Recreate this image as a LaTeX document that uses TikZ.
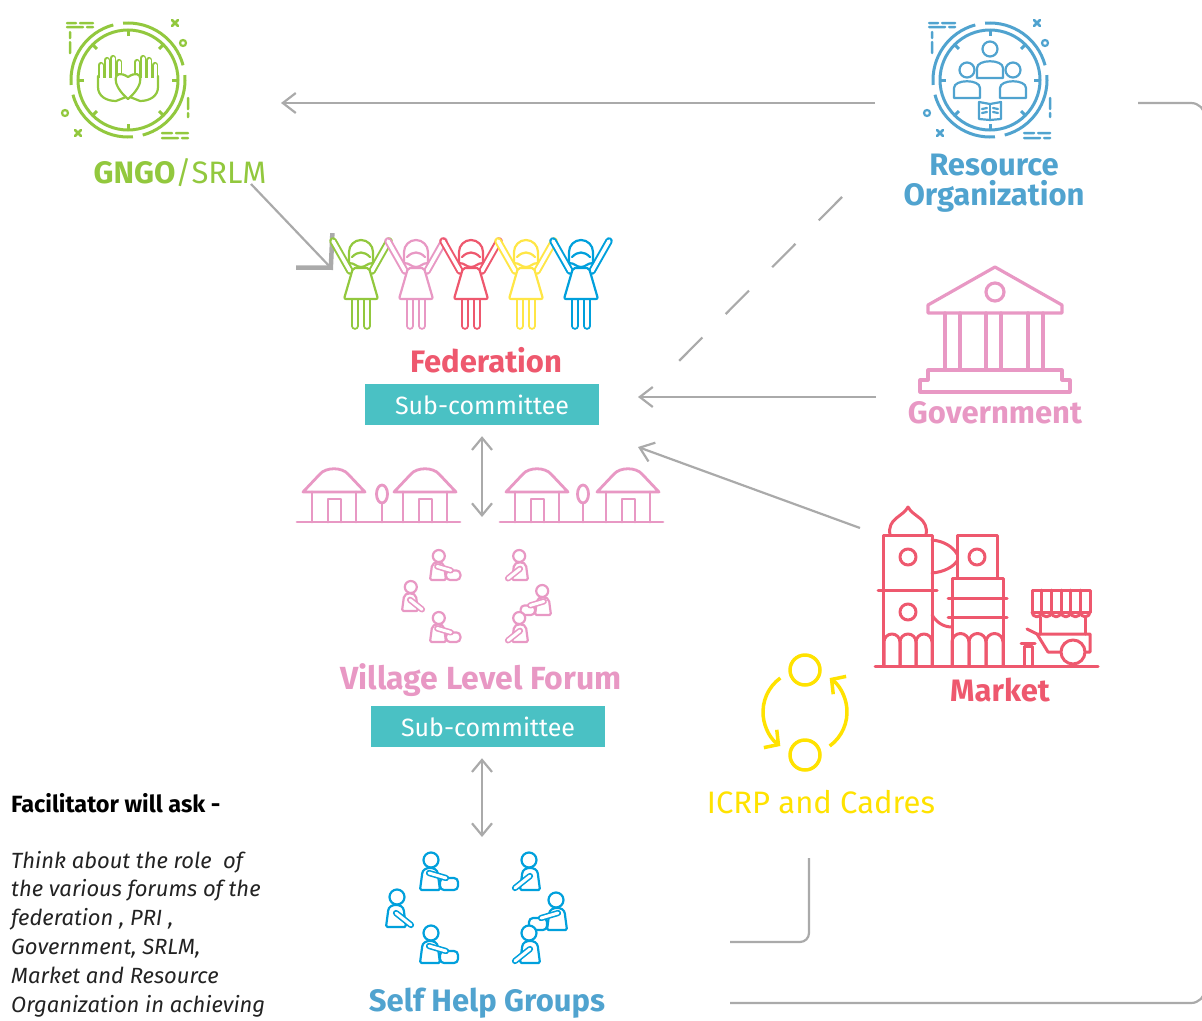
\documentclass[tikz,border=0pt]{standalone}
\usepackage{fontspec}
\setmainfont{Fira Sans}
\usetikzlibrary{arrows.meta}

\definecolor{gngogreen}{RGB}{146,200,62}
\definecolor{roblue}{RGB}{80,163,207}
\definecolor{fedred}{RGB}{238,88,110}
\definecolor{govpink}{RGB}{232,152,196}
\definecolor{shgblue}{RGB}{0,160,220}
\definecolor{figyellow}{RGB}{255,230,70}
\definecolor{cadreyellow}{RGB}{255,226,0}
\definecolor{subteal}{RGB}{74,193,196}
\definecolor{linkgray}{RGB}{170,170,170}
\definecolor{asktext}{RGB}{35,35,35}

\tikzset{
  % text
  heading/.style={font=\fontsize{31}{31}\selectfont\bfseries, anchor=base, inner sep=0pt},
  subbox/.style={fill=subteal, text=white, minimum width=234pt, minimum height=41pt,
    inner sep=0pt, font=\fontsize{25}{25}\selectfont},
  note/.style={anchor=base west, inner sep=0pt, text=asktext,
    font=\fontsize{22}{22}\selectfont\itshape},
  % connectors
  link/.style={draw=linkgray, line width=2.2pt},
  barb/.style={-{Straight Barb[length=13pt,width=20pt]}},
  barbs/.style={{Straight Barb[length=12pt,width=20pt]}-{Straight Barb[length=12pt,width=20pt]}},
  % strokes of the icons
  icon/.style={line width=2.8pt, line cap=round, line join=round},
  slim/.style={line width=2.2pt, line cap=round, line join=round},
  hollow/.style={double=white, line width=2pt, double distance=3.6pt, line cap=round},
  vlf/.style={color=govpink, scale=0.8},
  shg/.style={color=shgblue}
}

\tikzset{
  % woman with raised arms
  woman/.pic={
    \draw[hollow] (-6,50) -- (-6,86);
    \draw[hollow] (6,50) -- (6,86);
    \draw[hollow] (-28,1) -- (-11,31);
    \draw[hollow] (28,1) -- (11,31);
    \draw[slim, fill=white, rounded corners=2pt] (-8,28) -- (8,28) -- (17,59) -- (-17,59) -- cycle;
    \draw[slim, fill=white] (-12,23) -- (-12,12) arc[start angle=180, end angle=360, radius=12] -- (12,23)
      .. controls (6,23) and (5,27) .. (0,27) .. controls (-5,27) and (-6,23) .. (-12,23) -- cycle;
    \draw[slim] (-9,17) .. controls (-3,11) and (3,11) .. (9,17);
  },
  % seated woman with a bowl
  sitbowl/.pic={
    \draw[slim, fill=white, rounded corners=1.5pt] (-10,0) -- (-8,-15) .. controls (-7,-24) and (7,-24) .. (8,-15) -- (10,0) -- cycle;
    \draw[slim, fill=white] (1,-30) circle[radius=7.5];
    \draw[slim, fill=white, rounded corners=4pt] (10,-12) -- (28,-12) -- (28,0) -- (10,0) -- cycle;
    \draw[hollow, line width=1.6pt, double distance=3pt] (-1,-17) -- (16,-12);
  },
  % seated woman reaching down
  sitreach/.pic={
    \draw[slim, fill=white, rounded corners=1.5pt] (-10,0) -- (-8,-15) .. controls (-7,-24) and (7,-24) .. (8,-15) -- (10,0) -- cycle;
    \draw[slim, fill=white] (1,-30) circle[radius=7.5];
    \draw[hollow, line width=1.6pt, double distance=3pt] (0,-14) -- (15,-2);
  },
  % hut and tree, origin on the ground
  hut/.pic={
    \draw[fill=white] (-31,-30) -- (-14,-48) .. controls (-8,-55) and (8,-55) .. (14,-48) -- (31,-30) -- cycle;
    \draw (-22,-30) -- (-22,0) (22,-30) -- (22,0);
    \draw (-6,0) -- (-6,-23) -- (7,-23) -- (7,0);
  },
  tree/.pic={
    \draw (0,-28) ellipse[x radius=5.5, y radius=9];
    \draw (0,-19) -- (0,0);
  },
  % round frame with marks
  badge/.pic={
    \foreach \a/\b in {-5/75, 85/165, 175/255, 265/345}
      \draw[line width=3pt] (\a:57) arc[start angle=\a, end angle=\b, radius=57];
    \draw[line width=3pt] (0,0) circle[radius=50];
    \foreach \t in {0,45,...,315} \draw[line width=3pt] (\t:44) -- (\t:50);
    \draw[line width=2.5pt, line cap=round]
      (-61,-57) -- (-52,-57) (-48,-57) -- (-35,-57)
      (-61,-53) -- (-45,-53) (-41,-53) -- (-35,-53)
      (-58,-48) -- (-58,-42) (-58,-38) -- (-58,-27)
      (44,-60) -- (50,-54) (44,-54) -- (50,-60)
      (-53,50) -- (-47,56) (-53,56) -- (-47,50)
      (34,53) -- (44,53) (48,53) -- (60,53)
      (34,58) -- (50,58) (54,58) -- (60,58)
      (60,18) -- (60,29) (60,33) -- (60,37);
    \draw[line width=2.2pt] (55,-37) circle[radius=3] (-63,33) circle[radius=3];
  },
  % open hand
  hand/.pic={
    \foreach \x/\t in {-27/-15,-21/-20,-15/-22,-9/-18}
      \draw[hollow, line width=1.6pt, double distance=3pt] (\x,0) -- (\x,\t);
    \fill[white] (-30,-2) -- (-30,7) .. controls (-30,16) and (-22,21) .. (-12,21) -- (-2,17) -- (-2,-2) -- cycle;
    \draw (-30,-4) -- (-30,7) .. controls (-30,16) and (-22,21) .. (-12,21) -- (-2,17);
  }
}

\begin{document}
\begin{tikzpicture}[x=1pt, y=-1pt]
\useasboundingbox (0,0) rectangle (1202,1020);

% icon centres
\coordinate (gn) at (128,80);
\coordinate (ro) at (990,80);
\coordinate (rim) at (1205,0);
\coordinate (cyc) at (805,712);

% labels
\node[heading, text=gngogreen] (gnlabel) at (180,183) {GNGO{\mdseries/SRLM}};
\node[heading, text=roblue] (rolabel) at (994,175) {Resource};
\node[heading, text=roblue] (rolabel2) at (994,205) {Organization};
\node[heading, text=fedred] (fedlabel) at (486,372) {Federation};
\node[subbox] (sub1) at (482,404.5) {Sub-committee};
\node[heading, text=govpink] (govlabel) at (995,423) {Government};
\node[heading, text=govpink, font=\fontsize{32}{32}\selectfont\bfseries] (vlflabel) at (481,689) {Village Level Forum};
\node[subbox] (sub2) at (488,726.5) {Sub-committee};
\node[heading, text=fedred] (mktlabel) at (1000,701) {Market};
\node[heading, text=cadreyellow, font=\fontsize{31}{31}\selectfont] (icrplabel) at (821,813) {ICRP and Cadres};
\node[heading, text=roblue] (shglabel) at (487,1011) {Self Help Groups};

% facilitator note
\node[anchor=base west, inner sep=0pt, text=black, font=\fontsize{23.5}{23.5}\selectfont\bfseries] (askhead) at (11,812) {Facilitator will ask -};
\foreach \l [count=\i] in {{Think about the role~ of}, {the various forums of the}, {federation , PRI ,},
    {Government, SRLM,}, {Market and Resource}, {Organization in achieving}}
  \node[note] (ask\i) at (11,{868+28.8*(\i-1)}) {\l};

% connector ends
\coordinate (roOut) at (875,103);
\coordinate (gnIn) at (281,103);
\coordinate (gnOut) at (251,184);
\coordinate (fedIn) at (333,270);
\coordinate (roDash) at (842,197);
\coordinate (fedDash) at (676,364);
\coordinate (govOut) at (876,397);
\coordinate (fedE) at (638,397);
\coordinate (mktOut) at (860,528);
\coordinate (fedSE) at (638,447);
\coordinate (roR) at (1138,103);
\coordinate (shgR) at (730,1003);
\coordinate (icrpOut) at (809,858);
\coordinate (shgR2) at (730,942);
\coordinate (vilTop) at (482,517);
\coordinate (shgTop) at (482,837);

% connectors
\draw[link, barb] (roOut) -- (gnIn);
\draw[link, -{Straight Barb[length=24pt,width=50pt,line width=4.5pt]}] (gnOut) -- (fedIn);
\draw[link, dash pattern=on 33pt off 33pt] (roDash) -- (fedDash);
\draw[link, barb] (govOut) -- (fedE);
\draw[link, barb] (mktOut) -- (fedSE);
\draw[link, rounded corners=14pt] (roR) -- (roR -| rim) -- (shgR -| rim) -- (shgR);
\draw[link, rounded corners=9pt] (icrpOut) |- (shgR2);
\draw[link, barbs, shorten <=11pt] (sub1.south) -- (vilTop);
\draw[link, barbs, shorten <=11pt] (sub2.south -| shgTop) -- (shgTop);

% GNGO / SRLM badge
\pic[color=gngogreen] at (gn) {badge};
\begin{scope}[shift={(gn)}, color=gngogreen, slim]
  \pic at (0,0) {hand};
  \pic[xscale=-1] at (0,0) {hand};
  \draw[fill=white] (0,19) .. controls (-18,4) and (-15,-13) .. (0,-3) .. controls (15,-13) and (18,4) .. (0,19);
\end{scope}

% resource organization badge
\pic[color=roblue] at (ro) {badge};
\begin{scope}[shift={(ro)}, color=roblue, slim]
  \draw[fill=white] (-36,18) -- (-36,8) .. controls (-36,-1) and (-10,-1) .. (-10,8) -- (-10,18) -- cycle;
  \draw[fill=white] (-23,-10) circle[radius=7.5];
  \draw[fill=white] (10,18) -- (10,8) .. controls (10,-1) and (36,-1) .. (36,8) -- (36,18) -- cycle;
  \draw[fill=white] (23,-10) circle[radius=7.5];
  \draw[fill=white] (-13,-2) -- (-13,-12) .. controls (-13,-21) and (13,-21) .. (13,-12) -- (13,-2) -- cycle;
  \draw[fill=white] (0,-31) circle[radius=7.5];
  % open book
  \draw[fill=white] (-11,22) -- (0,24) -- (11,22) -- (11,39) -- (0,40) -- (-11,39) -- cycle;
  \draw (0,24) -- (0,40);
  \draw (-8,29) -- (-3,28) (-8,33) -- (-3,32) (3,28) -- (8,29) (3,32) -- (8,33);
\end{scope}

% federation women
\foreach \c [count=\i from 0] in {gngogreen, govpink, fedred, figyellow, shgblue}
  \pic[color=\c] at ({361+55*\i},240) {woman};

% government building
\begin{scope}[color=govpink, icon, line width=3.2pt]
  \draw (928,313) -- (928,305) -- (995,267) -- (1062,305) -- (1062,313) -- cycle;
  \draw (995,292) circle[radius=9];
  \foreach \x in {945,986,1028} \draw (\x,313) -- (\x,370) (\x+15,313) -- (\x+15,370);
  \draw (928,370) -- (1062,370) -- (1062,380) -- (1070,380) -- (1070,392) -- (920,392) -- (920,380) -- (928,380) -- cycle;
\end{scope}

% village
\begin{scope}[color=govpink, icon]
  \draw (297,522) -- (460,522);
  \draw (500,522) -- (663,522);
  \pic at (334,522) {hut};
  \pic at (425,522) {hut};
  \pic at (537,522) {hut};
  \pic at (628,522) {hut};
  \pic at (382,522) {tree};
  \pic at (583,522) {tree};
\end{scope}

% village level forum members
\pic[vlf] at (438,580) {sitbowl};
\pic[vlf, xscale=-1] at (520,580) {sitreach};
\pic[vlf] at (410,611) {sitreach};
\pic[vlf, xscale=-1] at (543,615) {sitbowl};
\pic[vlf] at (438,642) {sitbowl};
\pic[vlf, xscale=-1] at (520,642) {sitreach};

% self help group members
\pic[shg] at (430,890) {sitbowl};
\pic[shg, xscale=-1] at (530,890) {sitreach};
\pic[shg] at (396,927) {sitreach};
\pic[shg, xscale=-1] at (557,930) {sitbowl};
\pic[shg] at (430,963) {sitbowl};
\pic[shg, xscale=-1] at (530,963) {sitreach};

% market
\begin{scope}[color=fedred, icon, line width=3pt]
  \draw (875,666) -- (1098,666);
  % domed tower
  \draw (890,535) .. controls (887,518) and (903,517) .. (908,507) .. controls (913,517) and (929,518) .. (926,535);
  \draw (883,666) -- (883,535) -- (932,535) -- (932,666);
  \draw (878,590) -- (937,590);
  \draw (908,557) circle[radius=8];
  \draw (908,612) circle[radius=8];
  \foreach \x in {884,900,916}
    \draw (\x,666) -- (\x,642) arc[start angle=180, end angle=360, radius=8] -- (\x+16,666);
  % bridges
  \draw (932,540) .. controls (944,541) and (953,547) .. (957,554);
  \draw (932,573) .. controls (944,572) and (953,567) .. (957,561);
  \draw (932,615) .. controls (937,623) and (944,627) .. (952,627);
  % square tower
  \draw (957,578) -- (957,535) -- (997,535) -- (997,578);
  \draw (977,557) circle[radius=8];
  \draw (952,666) -- (952,578) -- (1003,578) -- (1003,666);
  \draw (948,598) -- (1007,598);
  \draw (948,617) -- (1007,617);
  \foreach \x in {952,969,986}
    \draw (\x,666) -- (\x,642) arc[start angle=180, end angle=360, radius=8.5] -- (\x+17,666);
  % cart
  \draw (1032,590) rectangle (1090,612);
  \foreach \i in {1,...,5} \draw ({1032+9.67*\i},590) -- ({1032+9.67*\i},612);
  \foreach \i in {0,...,5} \draw ({1032+9.67*\i},612) arc[start angle=180, end angle=0, radius=4.83];
  \draw (1040,617) -- (1040,634) (1085,617) -- (1085,634);
  \draw (1027,629) -- (1037,634) -- (1090,634) -- (1090,652) -- (1085,652);
  \draw (1037,634) -- (1048,652) -- (1061,652);
  \draw[fill=white] (1073,652) circle[radius=12];
  \draw (1021,643) -- (1035,643);
  \draw (1024,646) rectangle (1032,666);
\end{scope}

% ICRP cycle
\begin{scope}[color=cadreyellow, line width=3.5pt]
  \draw (805,670) circle[radius=15];
  \draw (805,755) circle[radius=15];
  \draw[-{Straight Barb[length=10pt,width=22pt]}] (cyc) ++(234:42) arc[start angle=234, end angle=126, radius=42];
  \draw[-{Straight Barb[length=10pt,width=22pt]}] (cyc) ++(54:42) arc[start angle=54, end angle=-54, radius=42];
\end{scope}
\end{tikzpicture}
\end{document}
